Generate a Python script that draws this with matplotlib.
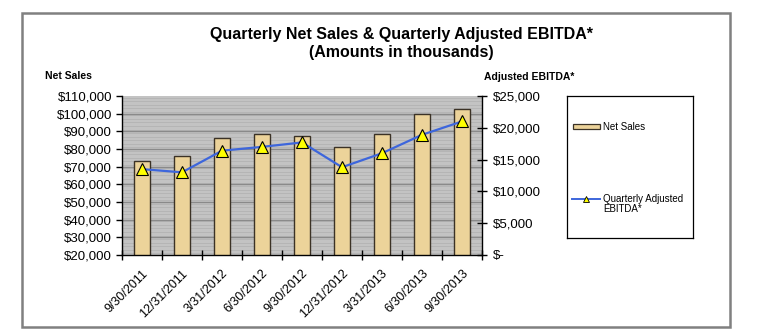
import matplotlib
matplotlib.use("Agg")
import matplotlib.pyplot as plt
from matplotlib.patches import Rectangle
from matplotlib.lines import Line2D
from matplotlib.ticker import FixedLocator, FuncFormatter
import numpy as np

plt.rcParams['font.family'] = ['Liberation Sans', 'DejaVu Sans']

quarters = ["9/30/2011", "12/31/2011", "3/31/2012", "6/30/2012", "9/30/2012",
            "12/31/2012", "3/31/2013", "6/30/2013", "9/30/2013"]
net_sales = [73000, 76000, 86000, 88300, 87200, 81000, 88300, 100000, 102500]
adj_ebitda = [13500, 13000, 16400, 17000, 17700, 13800, 16000, 18900, 21000]

sales_ticks = list(range(20000, 110001, 10000))
ebitda_ticks = list(range(0, 25001, 5000))

W, H = 774, 336
fig = plt.figure(figsize=(W / 100, H / 100), dpi=100)
fig.patch.set_facecolor("white")

# outer chart frame
fig.patches.append(Rectangle((22 / W, (H - 327) / H), 708 / W, 314 / H,
                             transform=fig.transFigure, fill=False,
                             edgecolor="#808080", linewidth=1.8, zorder=0))

ax = fig.add_axes([122 / W, (H - 255) / H, 360 / W, 159 / H])
ax.set_facecolor("#c3c3c3")
x = np.arange(len(quarters))

# fine horizontal banding of the plot area
for yv in range(21000, 110000, 2000):
    ax.axhline(yv, color="#b5b5b5", lw=0.7, zorder=0)
for yv in sales_ticks[1:-1]:
    ax.axhline(yv, color="#8a8a8a", lw=1.0, zorder=0.5)

ax.bar(x, net_sales, width=0.4, color="#ecd39a", edgecolor="#3b3226",
       linewidth=1.0, zorder=2)
ax.set_xlim(-0.5, len(quarters) - 0.5)
ax.set_ylim(sales_ticks[0], sales_ticks[-1])
ax.set_yticks(sales_ticks)
ax.yaxis.set_major_formatter(FuncFormatter(lambda v, p: f"${v:,.0f}"))
ax.tick_params(axis="y", direction="out", length=4, width=1, labelsize=9.5, pad=3)

ax.set_xticks(x)
ax.set_xticklabels(quarters, rotation=45, ha="right", va="top",
                   rotation_mode="anchor", fontsize=9)
ax.tick_params(axis="x", which="major", length=0, pad=9)
ax.xaxis.set_minor_locator(FixedLocator(np.arange(-0.5, len(quarters), 1.0)))
ax.tick_params(axis="x", which="minor", direction="inout", length=7, width=1)

for s in ["left", "bottom"]:
    ax.spines[s].set_color("black")
    ax.spines[s].set_linewidth(1.0)
ax.spines["top"].set_visible(False)
ax.spines["right"].set_visible(False)

ax2 = ax.twinx()
ax2.plot(x, adj_ebitda, color="#3d66dc", lw=1.6, marker="^", ms=8,
         markerfacecolor="#ffff00", markeredgecolor="black", markeredgewidth=0.8,
         zorder=3)
ax2.set_ylim(ebitda_ticks[0], ebitda_ticks[-1])
ax2.set_yticks(ebitda_ticks)
ax2.yaxis.set_major_formatter(FuncFormatter(lambda v, p: "$-" if v == 0 else f"${v:,.0f}"))
ax2.tick_params(axis="y", direction="inout", length=7, width=1, labelsize=9.5, pad=4)
for s in ["top", "left", "bottom"]:
    ax2.spines[s].set_visible(False)
ax2.spines["right"].set_color("black")
ax2.spines["right"].set_linewidth(1.0)

# titles and axis captions
fig.text(401.5 / W, (H - 35) / H, "Quarterly Net Sales & Quarterly Adjusted EBITDA*",
         ha="center", va="center", fontsize=11.5, fontweight="bold")
fig.text(401.5 / W, (H - 53) / H, "(Amounts in thousands)",
         ha="center", va="center", fontsize=11.5, fontweight="bold")
fig.text(45 / W, (H - 76) / H, "Net Sales", ha="left", va="center",
         fontsize=7.5, fontweight="bold")
fig.text(484 / W, (H - 77) / H, "Adjusted EBITDA*", ha="left", va="center",
         fontsize=7.5, fontweight="bold")

# legend panel
lg = fig.add_axes([567 / W, (H - 238) / H, 126 / W, 142 / H])
lg.set_xlim(0, 126)
lg.set_ylim(142, 0)
lg.set_xticks([])
lg.set_yticks([])
for s in lg.spines.values():
    s.set_color("black")
    s.set_linewidth(0.9)
lg.add_patch(Rectangle((6, 28), 27, 5, facecolor="#ecd39a",
                       edgecolor="#3b3226", linewidth=0.9))
lg.text(36, 30.5, "Net Sales", ha="left", va="center", fontsize=7)
lg.add_line(Line2D([5, 33], [102.5, 102.5], color="#3d66dc", lw=1.4))
lg.plot([19], [102.5], marker="^", ms=5, markerfacecolor="#ffff00",
        markeredgecolor="black", markeredgewidth=0.6, linestyle="none")
lg.text(36, 97.5, "Quarterly Adjusted\nEBITDA*", ha="left", va="top",
        fontsize=7, linespacing=1.1)

fig.savefig("out.png", dpi=100)
